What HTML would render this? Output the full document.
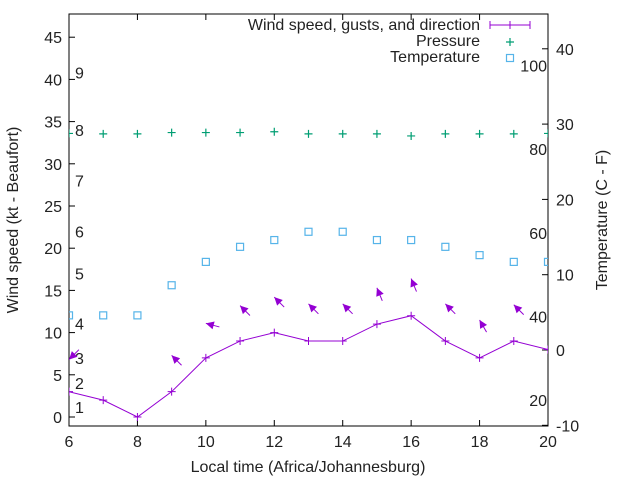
<!DOCTYPE html>
<html><head><meta charset="utf-8"><style>
body{margin:0;background:#fff}
svg text{font-family:"Liberation Sans",sans-serif;font-size:16px;fill:#222}
</style></head><body>
<svg id="c" width="640" height="480"></svg>
<script>
const hours=[6,7,8,9,10,11,12,13,14,15,16,17,18,19,20];
const windSpeed=[3,2,0,3,7,9,10,9,9,11,12,9,7,9,8];
const gusts=[6.8,null,null,7.3,11.1,13.2,14.2,13.4,13.4,15.3,16.4,13.4,11.5,13.3,12.3];
const windDir=[45,null,null,135,105,135,135,135,135,157.5,157.5,135,150,135,135];
const pressure=[33.6,33.55,33.55,33.7,33.7,33.7,33.8,33.55,33.55,33.55,33.3,33.55,33.55,33.55,33.6];
const temperature=[4.6,4.6,4.6,8.6,11.7,13.7,14.6,15.7,15.7,14.6,14.6,13.7,12.6,11.7,11.7];
const yTicks=[0,5,10,15,20,25,30,35,40,45];
const y2Ticks=[-10,0,10,20,30,40];
const xTicks=[6,8,10,12,14,16,18,20];
const beaufortLabels=["1","2","3","4","5","6","7","8","9"];
const beaufortPos=[1.2,4,7,11.1,17,22,28,34,40.8];
const fTicks=[20,40,60,80,100];

const L=69,R=548,T=14,B=426;
const X=h=>L+(h-6)/14*(R-L);
const Y=v=>417-v*8.44;
const Y2=c=>350-c*7.53;
const svg=document.getElementById('c');
const NS='http://www.w3.org/2000/svg';
function mk(tag,attrs,parent){const e=document.createElementNS(NS,tag);for(const k in attrs)e.setAttribute(k,attrs[k]);(parent||svg).appendChild(e);return e;}
function txt(s,x,y,anchor,name,parent){const t=mk('text',{x:x,y:y,'text-anchor':anchor||'start'},parent);t.textContent=s;return t;}

const frame=mk('rect',{x:L,y:T,width:R-L,height:B-T,fill:'none',stroke:'#000','stroke-width':1});



yTicks.forEach(v=>{const y=Y(v);
 const tk=mk('path',{d:`M${L} ${y}h6`,stroke:'#000'});
 
 
 txt(String(v),L-7,y+6,'end','y-tick-label');});
y2Ticks.forEach(v=>{const y=Y2(v);
 const tk=mk('path',{d:`M${R} ${y}h-6`,stroke:'#000'});
 
 
 txt(String(v),R+8,y+6,'start','y2-tick-label');});
xTicks.forEach(v=>{const x=X(v);
 const tk=mk('path',{d:`M${x} ${B}v-6M${x} ${T}v6`,stroke:'#000'});
 
 
 txt(String(v),x,B+21,'middle','x-tick-label');});
beaufortLabels.forEach((s,i)=>txt(s,75,Y(beaufortPos[i])+6,'start','beaufort-label'));
fTicks.forEach(f=>txt(String(f),R-1,Y2((f-32)*5/9)+6,'end','fahrenheit-label'));

txt('Local time (Africa/Johannesburg)',308,472,'middle','x-axis-title');
const yt=txt('Wind speed (kt - Beaufort)',0,0,'middle','y-axis-title');
yt.setAttribute('transform','translate(18,220) rotate(-90)');
const y2t=txt('Temperature (C - F)',0,0,'middle','y2-axis-title');
y2t.setAttribute('transform','translate(607,220) rotate(-90)');

const cp=mk('clipPath',{id:'clip'});mk('rect',{x:L,y:T,width:R-L,height:B-T},cp);
const g=mk('g',{'clip-path':'url(#clip)'});



const pl=mk('polyline',{points:hours.map((h,i)=>X(h)+','+Y(windSpeed[i])).join(' '),fill:'none',stroke:'#9400d3','stroke-width':1},g);


hours.forEach((h,i)=>{const x=X(h),y=Y(windSpeed[i]);
 const p=mk('path',{d:`M${x-4} ${y}h8M${x} ${y-4}v8`,stroke:'#9400d3'},g);
 
 });
hours.forEach((h,i)=>{if(gusts[i]==null)return;
 const hx=X(h),hy=Y(gusts[i]);const to=(windDir[i]+180)*Math.PI/180;
 const ux=Math.sin(to),uy=-Math.cos(to);const len=14;
 const tx=hx-ux*len,ty=hy-uy*len;
 const a=mk('g',{},g);
 
 
 mk('line',{x1:tx,y1:ty,x2:hx,y2:hy,stroke:'#9400d3'},a);
 const px=-uy,py=ux;const hl=8,hw=4;
 mk('polygon',{points:`${hx},${hy} ${hx-ux*hl+px*hw},${hy-uy*hl+py*hw} ${hx-ux*hl-px*hw},${hy-uy*hl-py*hw}`,fill:'#9400d3'},a);});
hours.forEach((h,i)=>{const x=X(h),y=Y(pressure[i]);
 const p=mk('path',{d:`M${x-4} ${y}h8M${x} ${y-4}v8`,stroke:'#009e73','stroke-width':1.2},g);
 
 });
hours.forEach((h,i)=>{const x=X(h),y=Y2(temperature[i]);
 const r=mk('rect',{x:x-3.5,y:y-3.5,width:7,height:7,fill:'none',stroke:'#56b4e9','stroke-width':1.2},g);
 
 });

const lg=mk('g',{});


txt('Wind speed, gusts, and direction',480,30,'end','legend-wind-label',lg);
mk('path',{d:'M490 25h40M490 21v8M530 21v8M510 21v8',stroke:'#9400d3'},lg);
txt('Pressure',480,46,'end','legend-pressure-label',lg);
mk('path',{d:'M506 42h8M510 38v8',stroke:'#009e73','stroke-width':1.2},lg);
txt('Temperature',480,62,'end','legend-temperature-label',lg);
mk('rect',{x:506.5,y:54.5,width:7,height:7,fill:'none',stroke:'#56b4e9','stroke-width':1.2},lg);
</script>
</body></html>
